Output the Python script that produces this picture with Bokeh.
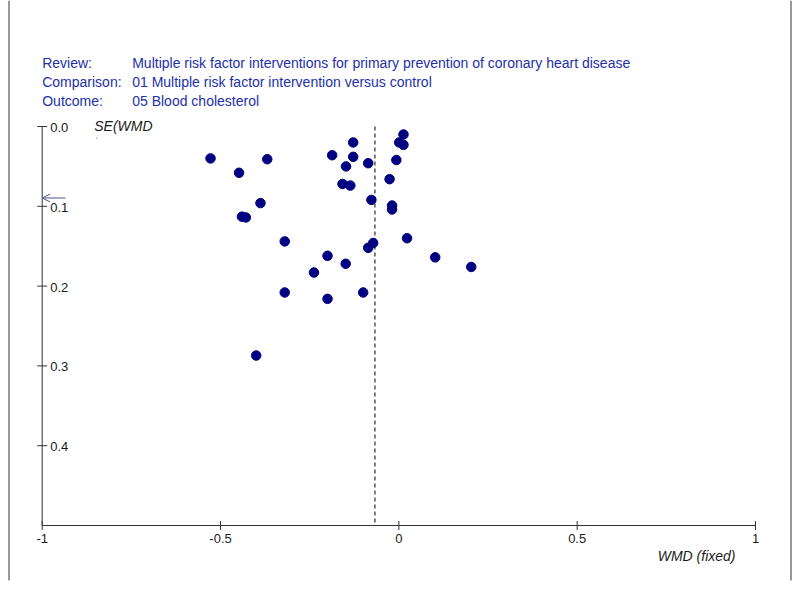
import math
from bokeh.plotting import figure
from bokeh.models import Range1d, ColumnDataSource, Arrow, OpenHead
from bokeh.core.properties import value
from bokeh.embed import file_html
from bokeh.resources import INLINE

# ---- data ----
wmd = [-0.528, -0.448, -0.369, -0.388, -0.440, -0.429, -0.320, -0.320, -0.400,
       -0.238, -0.200, -0.149, -0.200, -0.100, -0.086, -0.072, -0.187, -0.128,
       -0.128, -0.148, -0.158, -0.136, -0.086, -0.077, -0.026, -0.019, -0.019,
       -0.007, 0.013, 0.001, 0.013, 0.023, 0.102, 0.203]
se_wmd = [0.040, 0.058, 0.041, 0.096, 0.113, 0.114, 0.144, 0.208, 0.287,
          0.183, 0.162, 0.172, 0.216, 0.208, 0.152, 0.146, 0.036, 0.020,
          0.038, 0.050, 0.072, 0.074, 0.046, 0.092, 0.066, 0.099, 0.104,
          0.042, 0.010, 0.020, 0.023, 0.140, 0.164, 0.176]
pooled_wmd = -0.067

x_ticks = [-1, -0.5, 0, 0.5, 1]
x_tick_labels = ["-1", "-0.5", "0", "0.5", "1"]
y_ticks = [0.0, 0.1, 0.2, 0.3, 0.4]
y_tick_labels = ["0.0", "0.1", "0.2", "0.3", "0.4"]
x_lim = (-1, 1)
y_lim = (0.0, 0.5)

header_keys = ["Review:", "Comparison:", "Outcome:"]
header_vals = ["Multiple risk factor interventions for primary prevention of coronary heart disease",
               "01 Multiple risk factor intervention versus control",
               "05 Blood cholesterol"]

# ---- layout (pixels) ----
W, H = 798, 589
X_LO_PX, X_HI_PX = 41.7, 755.0     # screen x of x_lim ends
Y_LO_PX, Y_HI_PX = 126.0, 525.0    # screen y of y_lim ends
sx = (X_HI_PX - X_LO_PX) / (x_lim[1] - x_lim[0])
sy = (Y_HI_PX - Y_LO_PX) / (y_lim[1] - y_lim[0])

def px_to_x(px):
    return x_lim[0] + (px - X_LO_PX) / sx

def px_to_y(py):
    return y_lim[0] + (py - Y_LO_PX) / sy

FONT = value("Liberation Sans")
BLUE = "#2330a8"
NAVY = "#000080"
INK = "#1a1a1a"
AXIS = "#333333"

p = figure(width=W, height=H, output_backend="svg", toolbar_location=None,
           x_range=Range1d(px_to_x(0), px_to_x(W)),
           y_range=Range1d(px_to_y(H), px_to_y(0)),
           x_axis_location=None, y_axis_location=None, min_border=0)
p.min_border_left = p.min_border_right = p.min_border_top = p.min_border_bottom = 0
p.outline_line_color = None
p.xgrid.visible = False
p.ygrid.visible = False

# outer frame lines (left and right)
p.segment(x0=[px_to_x(8.5), px_to_x(790.5)], y0=[px_to_y(0), px_to_y(0)],
          x1=[px_to_x(8.5), px_to_x(790.5)], y1=[px_to_y(580), px_to_y(580)],
          line_color=AXIS, line_width=1)

# axes lines
p.segment(x0=[x_lim[0], x_lim[0]], y0=[y_lim[1], y_lim[0]],
          x1=[x_lim[1], x_lim[0]], y1=[y_lim[1], y_lim[1]],
          line_color=AXIS, line_width=1)
# ticks (crossing the axis lines)
p.scatter(x=x_ticks, y=[y_lim[1]] * len(x_ticks), marker="dash", size=9,
          angle=math.pi / 2, line_color=AXIS, line_width=1)
p.scatter(x=[x_lim[0]] * len(y_ticks), y=y_ticks, marker="dash", size=10,
          line_color=AXIS, line_width=1)
# tick labels
p.text(x=x_ticks, y=[y_lim[1]] * len(x_ticks), text=x_tick_labels, y_offset=8,
       text_font=FONT, text_font_size="13px", text_color=INK,
       text_align="center", text_baseline="top")
p.text(x=[x_lim[0]] * len(y_ticks), y=y_ticks, text=y_tick_labels, x_offset=8, y_offset=1,
       text_font=FONT, text_font_size="13px", text_color=INK,
       text_align="left", text_baseline="middle")

# axis titles
p.text(x=[x_lim[0]], y=[y_lim[0]], text=["SE(WMD"], x_offset=52, y_offset=-1,
       text_font=FONT, text_font_size="14px", text_font_style="italic", text_color=INK,
       text_baseline="middle")
p.text(x=[x_lim[0]], y=[y_lim[0]], text=["`"], x_offset=53, y_offset=14,
       text_font=FONT, text_font_size="9px", text_color="#777777", text_baseline="middle")
p.text(x=[x_lim[1]], y=[y_lim[1]], text=["WMD (fixed)"], x_offset=-20, y_offset=30,
       text_font=FONT, text_font_size="14px", text_font_style="italic", text_color=INK,
       text_align="right", text_baseline="middle")

# header
p.text(x=[x_lim[0]] * 3, y=[y_lim[0]] * 3, text=header_keys, y_offset=[-64, -45, -26],
       text_font=FONT, text_font_size="14px", text_color=BLUE, text_baseline="middle")
p.text(x=[x_lim[0]] * 3, y=[y_lim[0]] * 3, text=header_vals, x_offset=90, y_offset=[-64, -45, -26],
       text_font=FONT, text_font_size="14px", text_color=BLUE, text_baseline="middle")

# pooled estimate line
p.segment(x0=[pooled_wmd], y0=[y_lim[0]], x1=[pooled_wmd], y1=[y_lim[1]],
          line_color="black", line_width=1, line_dash="4 3")

# small arrow artefact at the y axis
p.add_layout(Arrow(x_start=px_to_x(65), y_start=px_to_y(197.5), x_end=x_lim[0], y_end=px_to_y(197.5),
                   line_color="#505090", line_width=1,
                   end=OpenHead(size=8, line_color="#505090", line_width=1)))

# studies
src = ColumnDataSource(dict(x=wmd, y=se_wmd))
p.scatter("x", "y", source=src, size=9.5, fill_color=NAVY, line_color=NAVY)

open("out.html", "w").write(file_html(p, INLINE))
